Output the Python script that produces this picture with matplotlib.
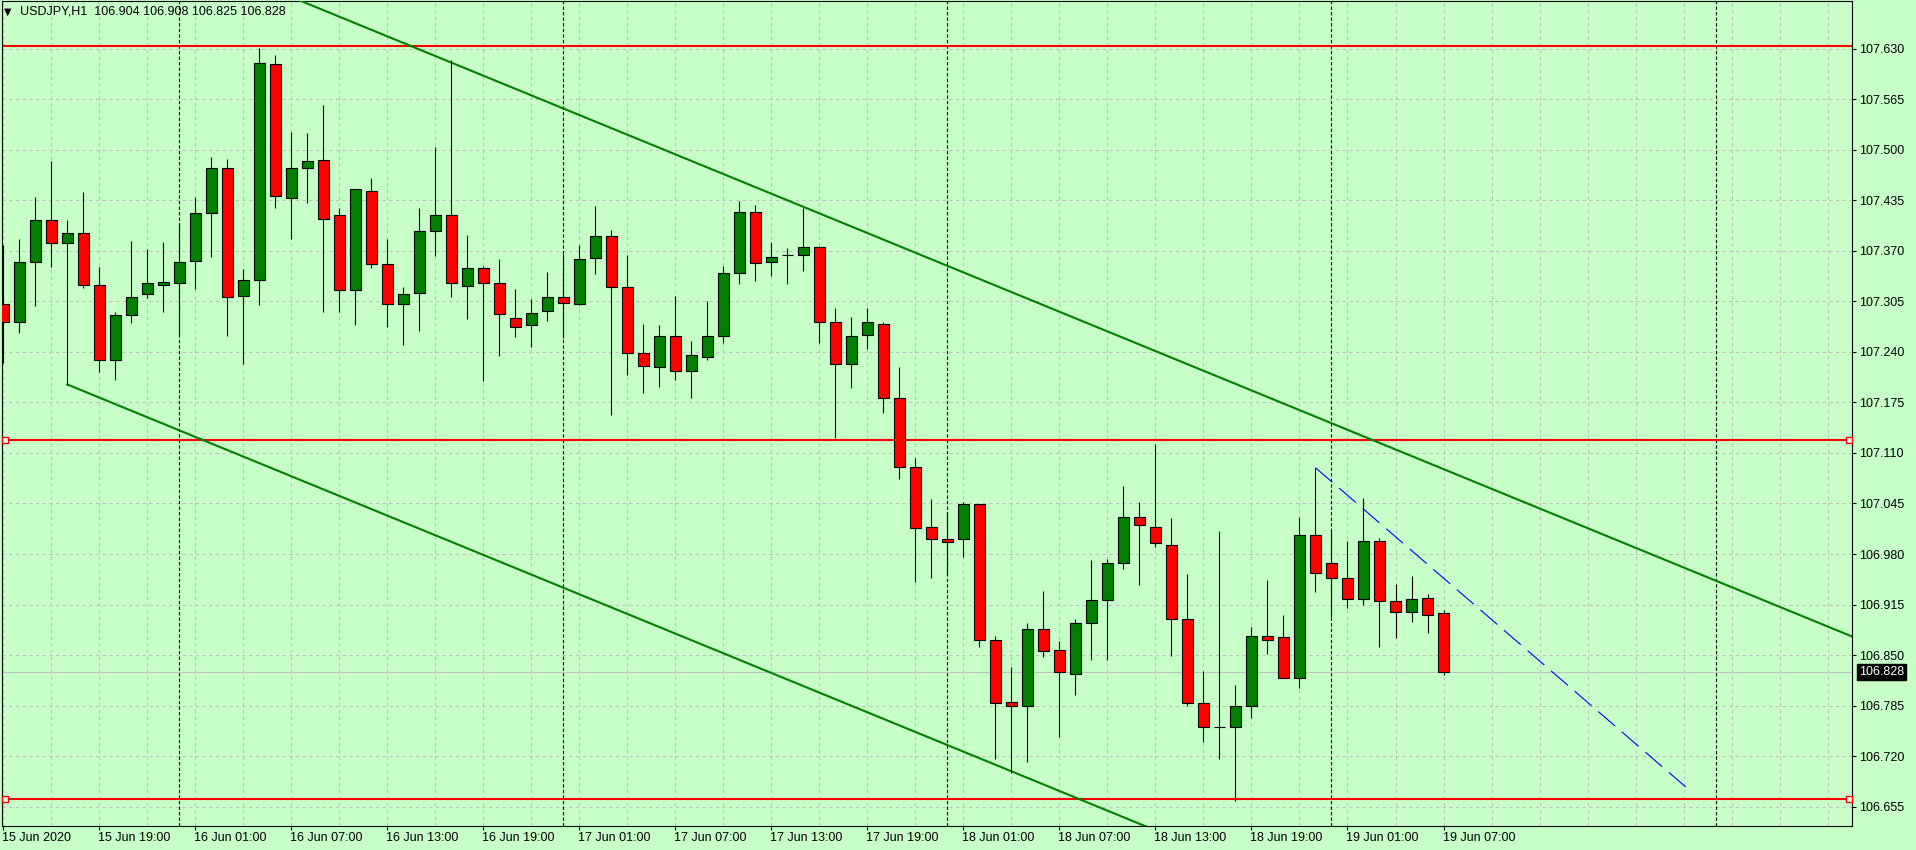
import numpy as np
import matplotlib
matplotlib.use('Agg')
import matplotlib.pyplot as plt
from matplotlib import transforms

plt.rcParams['font.family'] = ['Liberation Sans', 'DejaVu Sans']
plt.rcParams['font.size'] = 9
plt.rcParams['figure.dpi'] = 100

#%% data (USDJPY H1, bar 0 = 16 Jun 00:00)
bar_idx = np.arange(-11, 80)

opens = [107.301, 107.278, 107.355, 107.410, 107.380, 107.393, 107.326, 107.230, 107.288, 107.314,
         107.326, 107.328, 107.357, 107.418, 107.476, 107.312, 107.332, 107.610, 107.438, 107.476,
         107.487, 107.416, 107.319, 107.447, 107.353, 107.301, 107.316, 107.396, 107.416, 107.325,
         107.348, 107.328, 107.284, 107.274, 107.292, 107.311, 107.302, 107.361, 107.389, 107.323,
         107.239, 107.221, 107.261, 107.216, 107.234, 107.261, 107.341, 107.420, 107.355, 107.364,
         107.364, 107.375, 107.278, 107.225, 107.262, 107.276, 107.181, 107.092, 107.015, 106.999,
         106.999, 107.044, 106.870, 106.790, 106.784, 106.883, 106.857, 106.826, 106.891, 106.921,
         106.968, 107.027, 107.015, 106.991, 106.897, 106.789, 106.757, 106.757, 106.784, 106.875,
         106.873, 106.820, 107.004, 106.968, 106.949, 106.922, 106.997, 106.919, 106.906, 106.923,
         106.904]
highs = [107.377, 107.385, 107.439, 107.486, 107.410, 107.445, 107.349, 107.291, 107.383, 107.372,
         107.381, 107.404, 107.439, 107.491, 107.488, 107.347, 107.631, 107.622, 107.523, 107.522,
         107.558, 107.425, 107.450, 107.463, 107.385, 107.323, 107.425, 107.504, 107.616, 107.390,
         107.350, 107.359, 107.321, 107.308, 107.343, 107.366, 107.378, 107.427, 107.397, 107.364,
         107.276, 107.274, 107.312, 107.254, 107.305, 107.351, 107.434, 107.429, 107.381, 107.373,
         107.425, 107.376, 107.296, 107.285, 107.297, 107.279, 107.221, 107.103, 107.051, 107.033,
         107.047, 107.044, 106.874, 106.835, 106.891, 106.933, 106.868, 106.896, 106.972, 106.974,
         107.068, 107.047, 107.122, 107.026, 106.954, 106.830, 107.010, 106.812, 106.886, 106.946,
         106.902, 107.027, 107.091, 107.010, 106.997, 107.052, 107.000, 106.941, 106.952, 106.928,
         106.908]
lows = [107.226, 107.264, 107.299, 107.349, 107.198, 107.322, 107.214, 107.204, 107.277, 107.309,
        107.291, 107.262, 107.321, 107.362, 107.260, 107.224, 107.300, 107.425, 107.385, 107.431,
        107.291, 107.291, 107.275, 107.348, 107.272, 107.249, 107.267, 107.363, 107.311, 107.282,
        107.203, 107.235, 107.259, 107.246, 107.280, 107.258, 107.300, 107.340, 107.159, 107.210,
        107.187, 107.195, 107.204, 107.181, 107.230, 107.251, 107.327, 107.331, 107.338, 107.327,
        107.344, 107.251, 107.129, 107.194, 107.244, 107.161, 107.077, 106.944, 106.949, 106.953,
        106.976, 106.861, 106.717, 106.698, 106.713, 106.848, 106.745, 106.799, 106.844, 106.844,
        106.961, 106.940, 106.989, 106.849, 106.784, 106.738, 106.716, 106.662, 106.769, 106.851,
        106.821, 106.808, 106.931, 106.899, 106.910, 106.915, 106.861, 106.872, 106.893, 106.879,
        106.825]
closes = [107.278, 107.355, 107.410, 107.380, 107.393, 107.326, 107.229, 107.288, 107.310, 107.328,
          107.330, 107.356, 107.419, 107.476, 107.311, 107.333, 107.612, 107.441, 107.476, 107.486,
          107.411, 107.319, 107.449, 107.353, 107.301, 107.315, 107.396, 107.416, 107.328, 107.348,
          107.328, 107.289, 107.272, 107.290, 107.311, 107.303, 107.360, 107.389, 107.323, 107.238,
          107.222, 107.261, 107.215, 107.236, 107.261, 107.342, 107.420, 107.354, 107.362, 107.364,
          107.375, 107.278, 107.225, 107.261, 107.278, 107.181, 107.092, 107.014, 106.999, 106.996,
          107.044, 106.869, 106.788, 106.784, 106.883, 106.855, 106.828, 106.891, 106.921, 106.968,
          107.027, 107.017, 106.994, 106.897, 106.788, 106.758, 106.757, 106.784, 106.874, 106.870,
          106.821, 107.004, 106.955, 106.949, 106.922, 106.997, 106.919, 106.906, 106.922, 106.901,
          106.828]

time_labels = ["15 Jun 2020", "15 Jun 19:00", "16 Jun 01:00", "16 Jun 07:00", "16 Jun 13:00",
               "16 Jun 19:00", "17 Jun 01:00", "17 Jun 07:00", "17 Jun 13:00", "17 Jun 19:00",
               "18 Jun 01:00", "18 Jun 07:00", "18 Jun 13:00", "18 Jun 19:00", "19 Jun 01:00",
               "19 Jun 07:00"]
label_bars = np.arange(-11, 80, 6)
day_breaks = [0, 24, 48, 72, 96]
price_ticks = [107.630, 107.565, 107.500, 107.435, 107.370, 107.305, 107.240, 107.175,
               107.110, 107.045, 106.980, 106.915, 106.850, 106.785, 106.720, 106.655]

# horizontal levels + trend objects
levels = [107.633, 107.127, 106.665]
level_marks = [False, True, True]
chan_lo = (-7, 107.198)        # lower channel anchor (bar, price)
chan_up = (17, 107.612)        # upper channel anchor
chan_slope = -0.008432         # price per bar
blue_line = ([71, 94.5], [107.091, 106.674])
last_price = 106.828

#%% figure
bg = '#c8ffc8'
fig = plt.figure(figsize=(19.16, 8.5), facecolor=bg)
ax = fig.add_axes([2/1916, 24/850, 1850/1916, 825.5/850], facecolor=bg)
x0, x1 = -11.09, 104.53
ax.set_xlim(x0, x1)
ax.set_ylim(106.6302, 107.6919)

# grid
for g in np.arange(-11, 105, 3):
    ax.axvline(g, color='#c0c0c0', lw=0.8, ls=(0, (3, 3)), zorder=0)
for p in price_ticks:
    ax.axhline(p, color='#c0c0c0', lw=0.8, ls=(0, (3, 3)), zorder=0)

# day separators
for d in day_breaks:
    ax.axvline(d, color='black', lw=0.8, ls=(0, (3, 2)), zorder=1)

# bid line
ax.axhline(last_price, color='#c0c0c0', lw=0.8, zorder=1)

# red levels
for lv, mk in zip(levels, level_marks):
    ax.axhline(lv, color='#ff0000', lw=1.5, zorder=2)
    if mk:
        ax.plot([x0 + 0.2, x1 - 0.2], [lv, lv], ls='none', marker='s', ms=4,
                mfc='white', mec='#ff0000', mew=1, zorder=6, clip_on=False)

# channel
xs = np.array([chan_lo[0], 110])
ax.plot(xs, chan_lo[1] + chan_slope * (xs - chan_lo[0]), color='#008000', lw=1.5, zorder=3)
xs = np.array([-12, 110])
ax.plot(xs, chan_up[1] + chan_slope * (xs - chan_up[0]), color='#008000', lw=1.5, zorder=3)

# blue dashed
ax.plot(blue_line[0], blue_line[1], color='#0000ff', lw=0.8, ls=(0, (20, 8)), zorder=3)

# candles
o = np.array(opens); h = np.array(highs); l = np.array(lows); c = np.array(closes)
ax.vlines(bar_idx, l, h, color='black', lw=0.8, zorder=4)
cols = np.where(c >= o, '#008000', '#ff0000')
ax.bar(bar_idx, np.abs(c - o), bottom=np.minimum(o, c), width=0.66, color=cols,
       edgecolor='black', linewidth=0.8, zorder=5)

# axes look
for s in ax.spines.values():
    s.set_color('black')
    s.set_linewidth(0.8)
ax.yaxis.tick_right()
ax.set_yticks(price_ticks)
ax.set_yticklabels([f'{p:.3f}' for p in price_ticks])
ax.tick_params(axis='y', direction='out', length=3, width=0.8, pad=2, labelsize=9)
ax.set_xticks(label_bars)
ax.set_xticklabels(time_labels, ha='left')
ax.tick_params(axis='x', direction='out', length=3, width=0.8, pad=1.5, labelsize=9)
off = transforms.ScaledTranslation(-1/100, 0, fig.dpi_scale_trans)
for t in ax.get_xticklabels():
    t.set_transform(t.get_transform() + off)

# last price tag
ax.annotate(f'{last_price:.3f}', xy=(1.0, last_price), xycoords=('axes fraction', 'data'),
            xytext=(5, 0), textcoords='offset points', va='center', ha='left',
            color='white', fontsize=9,
            bbox=dict(boxstyle='square,pad=0.15', fc='black', ec='black'))

# header
fig.text(4/1916, 1 - 12/850, '\u25bc', fontsize=7, va='center', family=['DejaVu Sans'])
fig.text(20/1916, 1 - 12/850, 'USDJPY,H1  106.904 106.908 106.825 106.828', fontsize=9, va='center')

plt.savefig('out.png', dpi=100, facecolor=bg)
